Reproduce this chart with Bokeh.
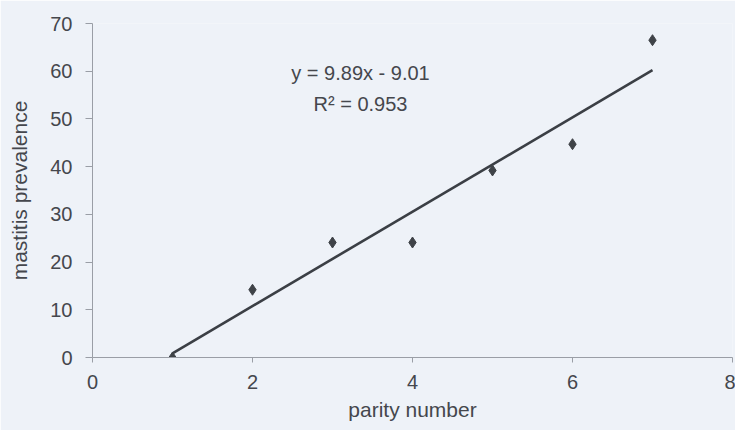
from bokeh.plotting import figure
from bokeh.models import FixedTicker, Label
from bokeh.embed import file_html
from bokeh.resources import INLINE

# data
parity = [1, 2, 3, 4, 5, 6, 7]
prevalence = [0.0, 14.2, 24.1, 24.1, 39.2, 44.7, 66.5]
slope = 9.89
intercept = -9.01
r2 = 0.953
x_ticks = [0, 2, 4, 6, 8]
y_ticks = [0, 10, 20, 30, 40, 50, 60, 70]

FONT = "Liberation Sans"
TXT = "#45474d"
BG = "#eef2f8"

p = figure(width=735, height=430, output_backend="svg", toolbar_location=None,
           x_range=(0, 8), y_range=(0, 70),
           min_border_left=92, min_border_right=3, min_border_top=23, min_border_bottom=73)
p.background_fill_color = BG
p.border_fill_color = BG
p.outline_line_color = None
p.xgrid.visible = False
p.ygrid.visible = False

for ax in (p.xaxis[0], p.yaxis[0]):
    ax.axis_line_color = "#9a9ea6"
    ax.major_tick_line_color = "#9a9ea6"
    ax.minor_tick_line_color = None
    ax.major_tick_in = 0
    ax.major_label_text_font = FONT
    ax.major_label_text_font_size = "20px"
    ax.major_label_text_color = TXT
    ax.axis_label_text_font = FONT
    ax.axis_label_text_font_style = "normal"
    ax.axis_label_text_color = TXT

p.xaxis[0].ticker = FixedTicker(ticks=x_ticks)
p.yaxis[0].ticker = FixedTicker(ticks=y_ticks)
p.xaxis[0].major_tick_out = 5
p.yaxis[0].major_tick_out = 7
p.xaxis[0].major_label_standoff = 12
p.yaxis[0].major_label_standoff = 13
p.xaxis[0].axis_label = "parity number"
p.yaxis[0].axis_label = "mastitis prevalence"
p.xaxis[0].axis_label_text_font_size = "21px"
p.yaxis[0].axis_label_text_font_size = "21px"
p.xaxis[0].axis_label_standoff = 6
p.yaxis[0].axis_label_standoff = 16

# trend line from the regression coefficients
x0, x1 = parity[0], parity[-1]
p.line([x0, x1], [slope * x0 + intercept, slope * x1 + intercept],
       line_color="#3b3f45", line_width=2.6)

p.scatter(parity, prevalence, marker="diamond", size=11,
          fill_color="#3f4348", line_color="#3f4348")

sign = "-" if intercept < 0 else "+"
p.add_layout(Label(x=3.35, y=59.6, text=f"y = {slope:.2f}x {sign} {abs(intercept):.2f}",
                   text_font=FONT, text_font_size="20px", text_color=TXT,
                   text_align="center", text_baseline="middle"))
p.add_layout(Label(x=3.35, y=53.2, text=f"R\u00b2 = {r2:.3f}",
                   text_font=FONT, text_font_size="20px", text_color=TXT,
                   text_align="center", text_baseline="middle"))

open("out.html", "w").write(file_html(p, INLINE))
